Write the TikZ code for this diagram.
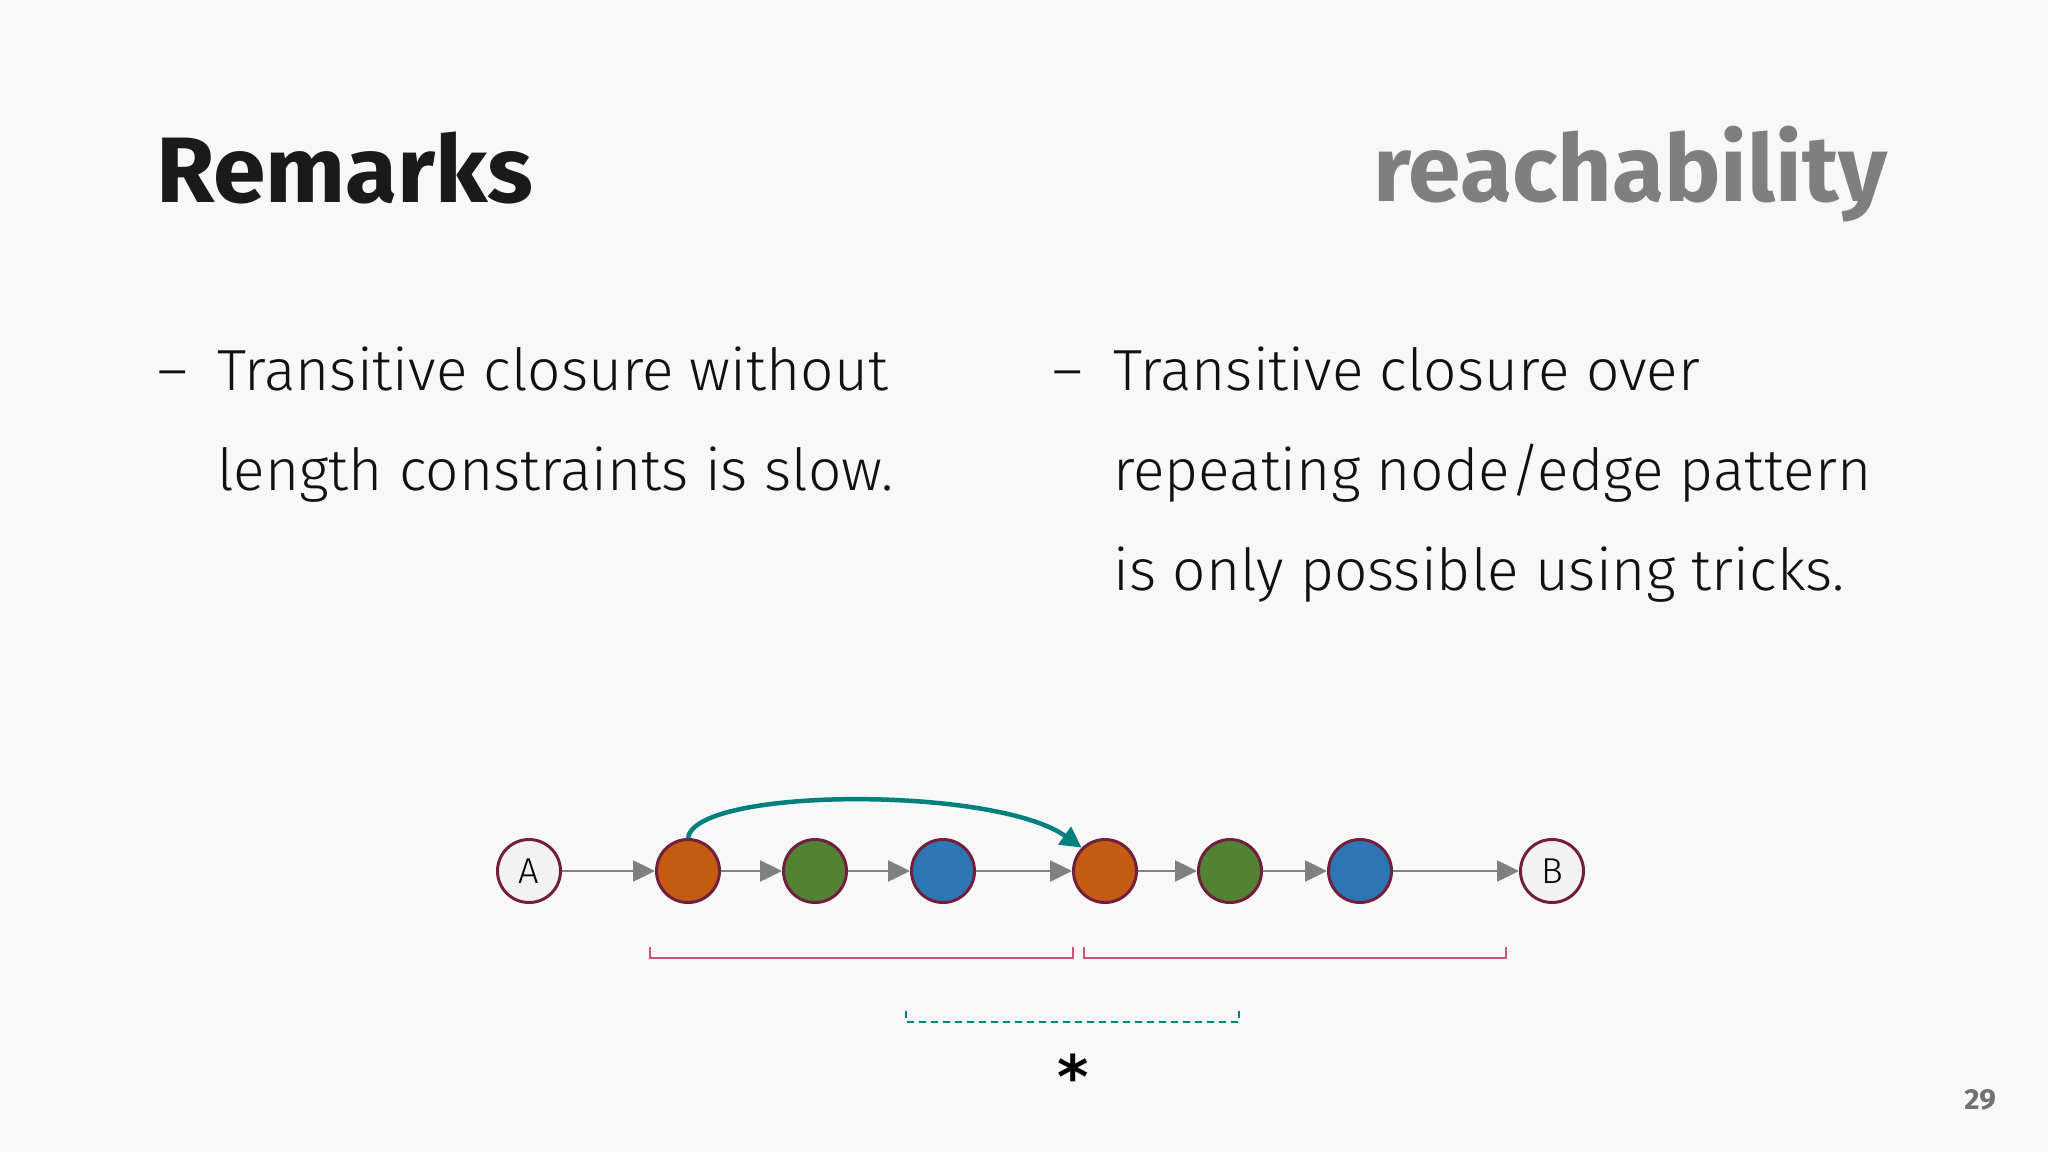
\documentclass[tikz,border=0pt]{standalone}
\usepackage{fontspec}
\setmainfont{Fira Sans}
\IfFontExistsTF{Fira Sans Light}
  {\newfontfamily\bodyfont{Fira Sans Light}[FakeStretch=1.01]}
  {\newfontfamily\bodyfont{Fira Sans}[FakeStretch=0.99]}
\newfontfamily\titlefont{Fira Sans}[UprightFont=* Bold,FakeStretch=1.02]
\newfontfamily\astfont{DejaVu Sans}[UprightFont=* Bold]
\usetikzlibrary{arrows.meta}
\definecolor{bgc}{RGB}{248,248,249}
\definecolor{titlec}{RGB}{26,26,26}
\definecolor{subc}{RGB}{127,127,127}
\definecolor{bodyc}{RGB}{17,17,17}
\definecolor{rimc}{RGB}{112,32,60}
\definecolor{orc}{RGB}{197,90,17}
\definecolor{grc}{RGB}{84,130,53}
\definecolor{blc}{RGB}{46,117,182}
\definecolor{whc}{RGB}{242,242,242}
\definecolor{arc}{RGB}{128,128,128}
\definecolor{tealc}{RGB}{0,128,124}
\definecolor{pinkc}{RGB}{200,84,120}
\definecolor{pagec}{RGB}{112,112,112}
\begin{document}
\begin{tikzpicture}[x=1pt,y=-1pt,
  bodytext/.style={anchor=base west,inner sep=0pt,text=bodyc,font=\bodyfont\fontsize{58}{58}\selectfont},
  vert/.style={circle,draw=rimc,line width=3pt,minimum size=63pt,inner sep=0pt},
  plainv/.style={vert,fill=whc,font=\bodyfont\fontsize{36}{36}\selectfont},
  edge/.style={draw=arc,line width=2.5pt,-{Triangle[length=22pt,width=21pt]}},
  jump/.style={draw=tealc,line width=4.5pt,-{Triangle[length=21pt,width=21pt]}},
  brk/.style={draw=pinkc,line width=1.5pt},
  dbrk/.style={draw=tealc,line width=2pt,dash pattern=on 7pt off 5pt}]
\fill[bgc] (0,0) rectangle (2048,1152);
\useasboundingbox (0,0) rectangle (2048,1152);
% titles
\node[anchor=base west,inner sep=0pt,text=titlec,font=\titlefont\fontsize{93}{93}\selectfont] (title) at (156,202) {Remarks};
\node[anchor=base east,inner sep=0pt,text=subc,font=\titlefont\fontsize{93}{93}\selectfont] (topic) at (1888,201) {reachability};
% left bullet
\node[bodytext] (ldash) at (157,390) {–};
\node[bodytext] (l1) at (217,390) {Transitive closure without};
\node[bodytext] (l2) at (217,490) {length constraints is slow.};
% right bullet
\node[bodytext] (rdash) at (1052,390) {–};
\node[bodytext] (r1) at (1113,390) {Transitive closure over};
\node[bodytext] (r2) at (1113,490) {repeating node/edge pattern};
\node[bodytext] (r3) at (1113,590) {is only possible using tricks.};
% graph
\node[plainv] (A) at (529,871) {A};
\node[vert,fill=orc] (o1) at (688,871) {};
\node[vert,fill=grc] (g1) at (815,871) {};
\node[vert,fill=blc] (b1) at (943,871) {};
\node[vert,fill=orc] (o2) at (1105,871) {};
\node[vert,fill=grc] (g2) at (1230,871) {};
\node[vert,fill=blc] (b2) at (1360,871) {};
\node[plainv] (B) at (1552,871) {B};
\draw[edge] (A) -- (o1);
\draw[edge] (o1) -- (g1);
\draw[edge] (g1) -- (b1);
\draw[edge] (b1) -- (o2);
\draw[edge] (o2) -- (g2);
\draw[edge] (g2) -- (b2);
\draw[edge] (b2) -- (B);
\draw[jump] (o1.north) .. controls (695,787) and (995,786) .. (o2.135);
% brackets
\draw[brk] (650,947) -- (650,958) -- (1073,958) -- (1073,947);
\draw[brk] (1084,947) -- (1084,958) -- (1506,958) -- (1506,947);
\draw[dbrk] (906,1011) -- (906,1022) -- (1239,1022) -- (1239,1011);
\node[anchor=north,inner sep=0pt,font=\astfont\fontsize{60}{60}\selectfont] (star) at (1073,1054) {*};
% page number
\node[anchor=base east,inner sep=0pt,text=pagec,font=\titlefont\fontsize{29}{29}\selectfont] (page) at (1996,1109) {29};
\end{tikzpicture}
\end{document}
